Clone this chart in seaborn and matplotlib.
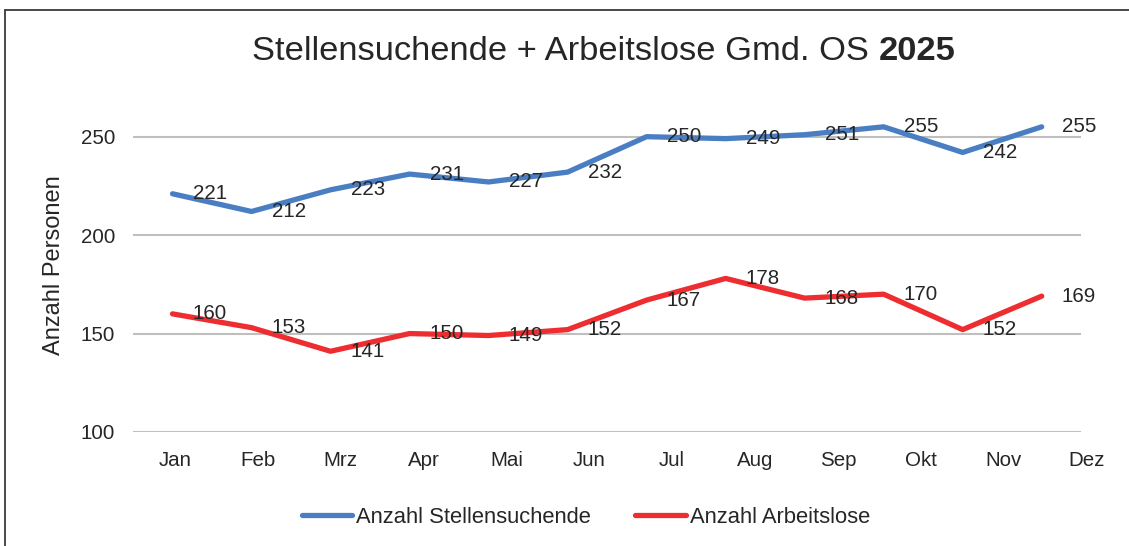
import numpy as np
import pandas as pd
from matplotlib import pyplot as plt
from matplotlib.lines import Line2D
import seaborn as sns

months = ['Jan', 'Feb', 'Mrz', 'Apr', 'Mai', 'Jun', 'Jul', 'Aug', 'Sep', 'Okt', 'Nov', 'Dez']
stellensuchende = [221, 212, 223, 231, 227, 232, 250, 249, 251, 255, 242, 255]
arbeitslose = [160, 153, 141, 150, 149, 152, 167, 178, 168, 170, 152, 169]
series_names = ['Anzahl Stellensuchende', 'Anzahl Arbeitslose']
colors = ['#4A7EC3', '#EE2D31']

sns.set_style('white')
plt.rcParams['font.family'] = ['Liberation Sans', 'DejaVu Sans']

df = pd.DataFrame({
    'pos': list(range(len(months))) * 2,
    'value': stellensuchende + arbeitslose,
    'serie': [series_names[0]] * len(months) + [series_names[1]] * len(months),
})

fig = plt.figure(figsize=(11.29, 5.46), dpi=100)
fig.patch.set_linewidth(0)
ax = fig.add_axes([133 / 1129, 0.2088, (1097 - 133) / 1129, 0.613])

sns.lineplot(data=df, x='pos', y='value', hue='serie', palette=colors,
             linewidth=3.8, ax=ax, legend=True)
for line in ax.lines:
    line.set_solid_capstyle('round')
    line.set_solid_joinstyle('round')

# data labels right of each point
for vals in (stellensuchende, arbeitslose):
    for i, v in enumerate(vals):
        ax.annotate(str(v), (i, v), xytext=(14.5, 0), textcoords='offset points',
                    ha='left', va='center', fontsize=14.8, color='#262626')

ax.set_xlim(-0.5, 11.7)
ax.set_ylim(100, 270)
yt = [100, 150, 200, 250]
ax.set_yticks(yt)
ax.hlines(yt, -0.5, 11.5, colors='#BFBFBF', linewidth=1.5, zorder=0)
# category labels (spacing as in original)
ax.set_xticks([0.03 + j * 1.049 for j in range(len(months))])
ax.set_xticklabels(months)
ax.tick_params(axis='both', length=0, labelsize=14.8, colors='#262626')
ax.tick_params(axis='x', pad=14)
ax.tick_params(axis='y', pad=13)
for s in ax.spines.values():
    s.set_visible(False)
ax.set_xlabel('')
ax.set_ylabel('Anzahl Personen', fontsize=17, color='#262626', labelpad=11)

h, l = ax.get_legend_handles_labels()
ax.legend_.remove()
fig.legend(h, l, loc='center', bbox_to_anchor=(0.519, 0.053), ncol=2, frameon=False,
           fontsize=15.8, handlelength=2.3, handletextpad=0.18, columnspacing=2.0,
           labelcolor='#262626')

# title with bold year
t1 = fig.text(0.5, 0.905, 'Stellensuchende + Arbeitslose Gmd. OS ', fontsize=24.8,
              ha='left', va='center', color='#262626')
t2 = fig.text(0.5, 0.905, '2025', fontsize=24.8, weight='bold',
              ha='left', va='center', color='#262626')
fig.canvas.draw()
w = t1.get_window_extent().width / fig.bbox.width
x0 = 252 / 1129
t1.set_x(x0)
t2.set_x(x0 + w)

# outer frame (top and left edge visible)
fig.lines.append(Line2D([5 / 1129, 5 / 1129], [0, 1 - 10 / 546], transform=fig.transFigure,
                        color='#3a3a3a', linewidth=1.3))
fig.lines.append(Line2D([5 / 1129, 1], [1 - 10 / 546, 1 - 10 / 546], transform=fig.transFigure,
                        color='#3a3a3a', linewidth=1.3))

fig.savefig('out.png', dpi=100)
